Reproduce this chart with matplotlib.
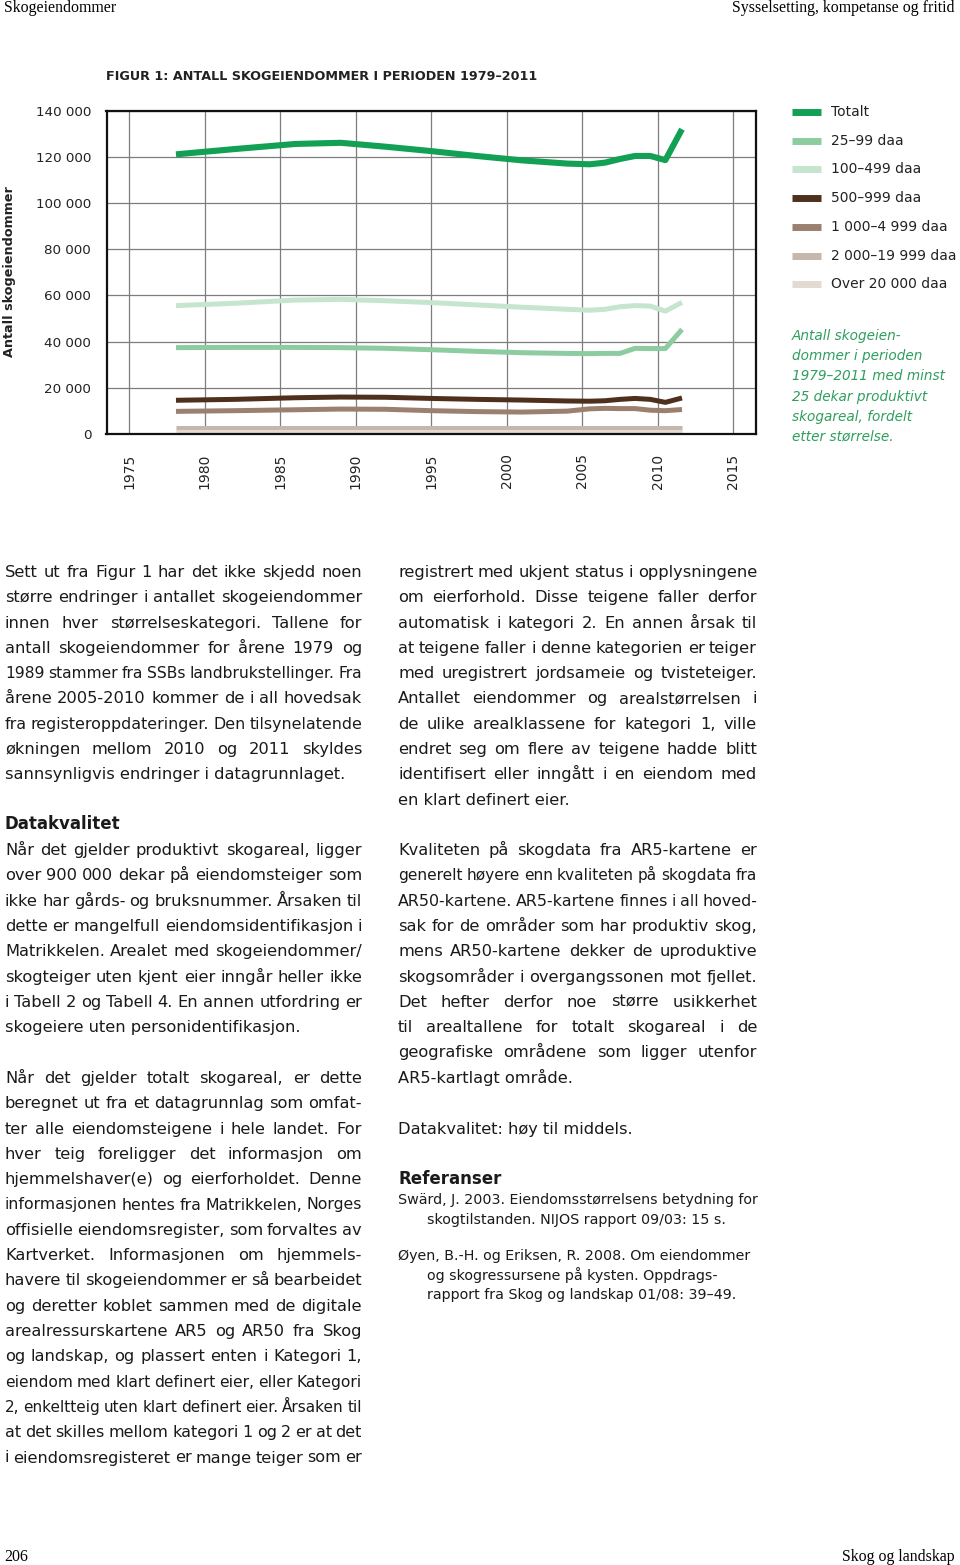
import matplotlib
matplotlib.use("Agg")
from matplotlib import pyplot as plt

W, H = 960, 1565

# ---- data ----
years = [1978.1, 1982, 1986, 1989, 1992, 1995, 1998, 2001, 2004, 2005.5, 2006.5, 2007.5, 2008.5, 2009.5, 2010.5, 2011.6]
totalt = [121100, 123400, 125600, 126100, 124400, 122500, 120400, 118500, 117100, 116800, 117500, 119100, 120400, 120400, 118600, 132000]
d25_99 = [37400, 37500, 37500, 37400, 37100, 36500, 35800, 35200, 34900, 34800, 34900, 34900, 37100, 37000, 37000, 45300]
d100_499 = [55600, 56600, 58000, 58300, 57700, 56900, 55900, 54900, 54000, 53600, 54000, 55100, 55600, 55400, 53200, 57000]
d500_999 = [14600, 15000, 15700, 16000, 15900, 15400, 15000, 14700, 14300, 14200, 14400, 15000, 15400, 15000, 13700, 15600]
d1000_4999 = [9800, 10100, 10500, 10800, 10700, 10100, 9700, 9500, 9900, 10900, 11100, 11000, 11000, 10300, 10100, 10600]
d2000_19999 = [2700, 2700, 2700, 2700, 2700, 2700, 2700, 2700, 2700, 2700, 2700, 2700, 2700, 2700, 2700, 2700]
d_over20000 = [800, 800, 800, 800, 800, 800, 800, 800, 800, 800, 800, 800, 800, 800, 800, 800]

series = [
    ("Totalt", totalt, "#12a055", 4.4),
    ("25–99 daa", d25_99, "#8dcca1", 3.6),
    ("100–499 daa", d100_499, "#c6e5cf", 3.6),
    ("500–999 daa", d500_999, "#4f301d", 3.6),
    ("1 000–4 999 daa", d1000_4999, "#9b8070", 3.6),
    ("2 000–19 999 daa", d2000_19999, "#c6b7ac", 3.6),
    ("Over 20 000 daa", d_over20000, "#e3dad2", 3.6),
]
xticks = [1975, 1980, 1985, 1990, 1995, 2000, 2005, 2010, 2015]
yticks = [0, 20000, 40000, 60000, 80000, 100000, 120000, 140000]

SANS = ["DejaVu Sans"]
SERIF = ["Liberation Serif", "DejaVu Serif"]
GREEN_TXT = "#2f9e5e"

def fx(x):
    return x / W

def fy(y):
    return 1 - y / H

fig = plt.figure(figsize=(W / 100, H / 100), dpi=100)
fig.patch.set_facecolor("white")

ax = fig.add_axes([fx(106.5), fy(434), fx(756) - fx(106.5), fy(110.7) - fy(434)])
for name, vals, col, lw in series:
    ax.plot(years, vals, color=col, lw=lw, solid_capstyle="butt", solid_joinstyle="round")
ax.set_xlim(1973.5, 2016.5)
ax.set_ylim(0, 140000)
ax.set_xticks(xticks)
ax.set_yticks(yticks)
ax.set_xticklabels([str(v) for v in xticks], rotation=90, va="top", ha="center",
                   family=SANS, fontsize=10, color="#222222")
ax.set_yticklabels([f"{v:,}".replace(",", " ") for v in yticks],
                   family=SANS, fontsize=9.7, color="#222222")
ax.tick_params(length=0, pad=14)
ax.tick_params(axis="y", pad=11)
ax.grid(True, color="#7d7d7d", lw=0.9)
ax.set_axisbelow(True)
for s in ax.spines.values():
    s.set_linewidth(1.6)
    s.set_color("#111111")

fig.text(fx(10), fy(272), "Antall skogeiendommer", rotation=90, ha="center", va="center",
         family=SANS, fontsize=9.2, fontweight="bold", color="#222222")

# title and running heads
fig.text(fx(106), fy(76), "FIGUR 1: ANTALL SKOGEIENDOMMER I PERIODEN 1979–2011",
         ha="left", va="center", family=SANS, fontsize=9.2, fontweight="bold", color="#222222")
fig.text(fx(4), fy(8), "Skogeiendommer", ha="left", va="center", family=SERIF, fontsize=11.4)
fig.text(fx(955), fy(8), "Sysselsetting, kompetanse og fritid", ha="right", va="center",
         family=SERIF, fontsize=11.4)
fig.text(fx(4), fy(1557), "206", ha="left", va="center", family=SERIF, fontsize=11.4)
fig.text(fx(955), fy(1557), "Skog og landskap", ha="right", va="center", family=SERIF, fontsize=11.4)

# legend drawn by hand
for i, (name, vals, col, lw) in enumerate(series):
    y = 112 + i * 28.7
    fig.add_artist(plt.Line2D([fx(792), fx(821)], [fy(y), fy(y)], color=col, lw=5,
                              solid_capstyle="butt"))
    fig.text(fx(831), fy(y), name, ha="left", va="center", family=SANS, fontsize=10,
             color="#222222")

caption = ["Antall skogeien-", "dommer i perioden", "1979–2011 med minst",
           "25 dekar produktivt", "skogareal, fordelt", "etter størrelse."]
for i, line in enumerate(caption):
    fig.text(fx(792), fy(336 + i * 20.2), line, ha="left", va="center", family=SANS,
             fontsize=9.8, style="italic", color=GREEN_TXT)

# ---- body text ----
renderer = fig.canvas.get_renderer()
BODY = 11.7
LH = 25.3
MIN_GAP = 4.0

def put_line(x, y, text, size=BODY, weight="normal", just=False, width=357):
    if not just:
        fig.text(fx(x), fy(y), text, ha="left", va="baseline", family=SANS, fontsize=size,
                 fontweight=weight, color="#1a1a1a")
        return
    words = text.split(" ")
    objs = [fig.text(0, fy(y), w, ha="left", va="baseline", family=SANS, fontsize=size,
                     fontweight=weight, color="#1a1a1a") for w in words]
    ws = [o.get_window_extent(renderer).width for o in objs]
    need = sum(ws) + MIN_GAP * (len(words) - 1)
    if need > width:
        # squeeze a too-long line a little so it still fits the column
        k = (width - MIN_GAP * (len(words) - 1)) / sum(ws)
        for o in objs:
            o.set_fontsize(size * k)
        ws = [o.get_window_extent(renderer).width for o in objs]
    gap = (width - sum(ws)) / max(len(words) - 1, 1)
    cur = x
    for o, w in zip(objs, ws):
        o.set_x(fx(cur))
        cur += w + gap

def paragraph(x, y0, lines, last_just=False, width=357):
    for i, line in enumerate(lines):
        last = i == len(lines) - 1
        put_line(x, y0 + i * LH, line, just=(not last) or last_just, width=width)

left_p1 = [
    "Sett ut fra Figur 1 har det ikke skjedd noen",
    "større endringer i antallet skogeiendommer",
    "innen hver størrelseskategori. Tallene for",
    "antall skogeiendommer for årene 1979 og",
    "1989 stammer fra SSBs landbrukstellinger. Fra",
    "årene 2005-2010 kommer de i all hovedsak",
    "fra registeroppdateringer. Den tilsynelatende",
    "økningen mellom 2010 og 2011 skyldes",
    "sannsynligvis endringer i datagrunnlaget.",
]
left_p2 = [
    "Når det gjelder produktivt skogareal, ligger",
    "over 900 000 dekar på eiendomsteiger som",
    "ikke har gårds- og bruksnummer. Årsaken til",
    "dette er mangelfull eiendomsidentifikasjon i",
    "Matrikkelen. Arealet med skogeiendommer/",
    "skogteiger uten kjent eier inngår heller ikke",
    "i Tabell 2 og Tabell 4. En annen utfordring er",
    "skogeiere uten personidentifikasjon.",
]
left_p3 = [
    "Når det gjelder totalt skogareal, er dette",
    "beregnet ut fra et datagrunnlag som omfat-",
    "ter alle eiendomsteigene i hele landet. For",
    "hver teig foreligger det informasjon om",
    "hjemmelshaver(e) og eierforholdet. Denne",
    "informasjonen hentes fra Matrikkelen, Norges",
    "offisielle eiendomsregister, som forvaltes av",
    "Kartverket. Informasjonen om hjemmels-",
    "havere til skogeiendommer er så bearbeidet",
    "og deretter koblet sammen med de digitale",
    "arealressurskartene AR5 og AR50 fra Skog",
    "og landskap, og plassert enten i Kategori 1,",
    "eiendom med klart definert eier, eller Kategori",
    "2, enkeltteig uten klart definert eier. Årsaken til",
    "at det skilles mellom kategori 1 og 2 er at det",
    "i eiendomsregisteret er mange teiger som er",
]
right_p1 = [
    "registrert med ukjent status i opplysningene",
    "om eierforhold. Disse teigene faller derfor",
    "automatisk i kategori 2. En annen årsak til",
    "at teigene faller i denne kategorien er teiger",
    "med uregistrert jordsameie og tvisteteiger.",
    "Antallet eiendommer og arealstørrelsen i",
    "de ulike arealklassene for kategori 1, ville",
    "endret seg om flere av teigene hadde blitt",
    "identifisert eller inngått i en eiendom med",
    "en klart definert eier.",
]
right_p2 = [
    "Kvaliteten på skogdata fra AR5-kartene er",
    "generelt høyere enn kvaliteten på skogdata fra",
    "AR50-kartene. AR5-kartene finnes i all hoved-",
    "sak for de områder som har produktiv skog,",
    "mens AR50-kartene dekker de uproduktive",
    "skogsområder i overgangssonen mot fjellet.",
    "Det hefter derfor noe større usikkerhet",
    "til arealtallene for totalt skogareal i de",
    "geografiske områdene som ligger utenfor",
    "AR5-kartlagt område.",
]

BL = 6  # baseline offset from line centre
paragraph(5, 571 + BL, left_p1)
put_line(5, 823 + BL, "Datakvalitet", size=12, weight="bold")
paragraph(5, 849 + BL, left_p2)
paragraph(5, 1077 + BL, left_p3, last_just=True)
paragraph(398, 571 + BL, right_p1, width=359)
paragraph(398, 849 + BL, right_p2, width=359)
put_line(398, 1128 + BL, "Datakvalitet: høy til middels.")
put_line(398, 1178 + BL, "Referanser", size=12, weight="bold")

refs = [
    (398, 1199, "Swärd, J. 2003. Eiendomsstørrelsens betydning for"),
    (427, 1219, "skogtilstanden. NIJOS rapport 09/03: 15 s."),
    (398, 1255, "Øyen, B.-H. og Eriksen, R. 2008. Om eiendommer"),
    (427, 1275, "og skogressursene på kysten. Oppdrags-"),
    (427, 1294, "rapport fra Skog og landskap 01/08: 39–49."),
]
for x, y, t in refs:
    put_line(x, y + 5, t, size=10.25)

fig.savefig("out.png", dpi=100)
